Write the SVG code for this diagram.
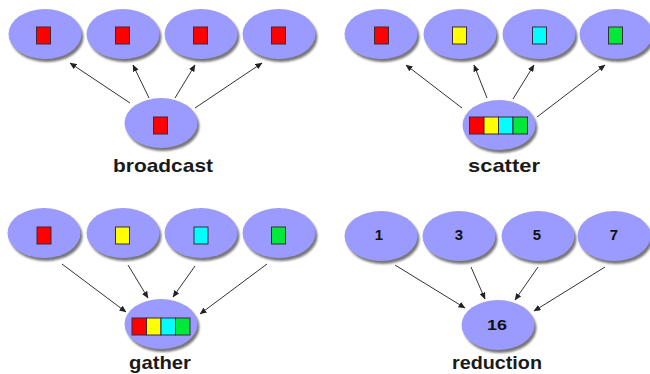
<svg xmlns="http://www.w3.org/2000/svg" width="650" height="374" viewBox="0 0 650 374">
  <defs>
    <filter id="soft" x="-20%" y="-20%" width="140%" height="140%">
      <feGaussianBlur stdDeviation="1.2"/>
    </filter>
    <marker id="head" markerWidth="7" markerHeight="6" refX="6.5" refY="3" orient="auto" markerUnits="userSpaceOnUse">
      <path d="M0,0 L7,3 L0,6 Z" fill="#222"/>
    </marker>
    <!-- a process: lavender ellipse with a soft shadow to the lower right -->
    <g id="proc">
      <ellipse cx="2" cy="3" rx="36.5" ry="25" fill="#555" filter="url(#soft)" opacity="0.8"/>
      <ellipse cx="0" cy="0" rx="36.5" ry="25" fill="#9b9bff"/>
    </g>
  </defs>
  <style>
    .cell { stroke: #3a2a3a; stroke-width: 1; }
    .r { fill: #ff0000; }
    .y { fill: #ffff00; }
    .c { fill: #00ffff; }
    .g { fill: #00e83a; }
    .num { font-family: "Liberation Sans", Arial, sans-serif; font-weight: bold; font-size: 15px; fill: #111; text-anchor: middle; }
    .label { font-family: "Liberation Sans", Arial, sans-serif; font-weight: bold; font-size: 19px; fill: #1a1a1a; text-anchor: middle; }
    .arrow { stroke: #333; stroke-width: 1; fill: none; marker-end: url(#head); }
  </style>

  <rect width="650" height="374" fill="#ffffff"/>

  <!-- connectors -->
  <g id="connectors">
    <!-- broadcast -->
    <line class="arrow" x1="130" y1="103" x2="70" y2="63"/>
    <line class="arrow" x1="149" y1="98" x2="133" y2="65"/>
    <line class="arrow" x1="175" y1="98" x2="195" y2="65"/>
    <line class="arrow" x1="195" y1="108" x2="262" y2="63"/>
    <!-- scatter -->
    <line class="arrow" x1="462" y1="108" x2="406" y2="65"/>
    <line class="arrow" x1="487" y1="98" x2="474" y2="65"/>
    <line class="arrow" x1="513" y1="99" x2="534" y2="65"/>
    <line class="arrow" x1="537" y1="117" x2="605" y2="65"/>
    <!-- gather -->
    <line class="arrow" x1="62" y1="264" x2="126" y2="312"/>
    <line class="arrow" x1="128" y1="265" x2="148" y2="298"/>
    <line class="arrow" x1="195" y1="266" x2="173" y2="297"/>
    <line class="arrow" x1="267" y1="264" x2="200" y2="314"/>
    <!-- reduction -->
    <line class="arrow" x1="395" y1="265" x2="465" y2="308"/>
    <line class="arrow" x1="471" y1="267" x2="485" y2="299"/>
    <line class="arrow" x1="538" y1="267" x2="515" y2="300"/>
    <line class="arrow" x1="605" y1="267" x2="534" y2="311"/>
  </g>

  <!-- broadcast -->
  <g id="bcast-p0"><use href="#proc" x="45" y="34"/><rect class="cell r" x="36.5" y="27" width="14" height="17"/></g>
  <g id="bcast-p1"><use href="#proc" x="123" y="34"/><rect class="cell r" x="115.5" y="27" width="14" height="17"/></g>
  <g id="bcast-p2"><use href="#proc" x="201" y="34"/><rect class="cell r" x="193.5" y="27" width="14" height="17"/></g>
  <g id="bcast-p3"><use href="#proc" x="279" y="34"/><rect class="cell r" x="271.5" y="27" width="14" height="17"/></g>
  <g id="bcast-root"><use href="#proc" x="161" y="123"/><rect class="cell r" x="153.5" y="117" width="14" height="17"/></g>
  <text class="label" x="163" y="172" textLength="100" lengthAdjust="spacingAndGlyphs">broadcast</text>

  <!-- scatter -->
  <g id="scatter-p0"><use href="#proc" x="381" y="34"/><rect class="cell r" x="374.5" y="27" width="14" height="17"/></g>
  <g id="scatter-p1"><use href="#proc" x="460" y="34"/><rect class="cell y" x="452.5" y="27" width="14" height="17"/></g>
  <g id="scatter-p2"><use href="#proc" x="539" y="34"/><rect class="cell c" x="532.5" y="27" width="14" height="17"/></g>
  <g id="scatter-p3"><use href="#proc" x="616" y="34"/><rect class="cell g" x="608.5" y="27" width="14" height="17"/></g>
  <g id="scatter-root"><use href="#proc" x="499" y="125"/>
    <rect class="cell r" x="469.5" y="117" width="14.5" height="17"/>
    <rect class="cell y" x="484" y="117" width="14.5" height="17"/>
    <rect class="cell c" x="498.5" y="117" width="14.5" height="17"/>
    <rect class="cell g" x="513" y="117" width="14.5" height="17"/>
  </g>
  <text class="label" x="504" y="172" textLength="72" lengthAdjust="spacingAndGlyphs">scatter</text>

  <!-- gather -->
  <g id="gather-p0"><use href="#proc" x="44" y="233"/><rect class="cell r" x="37" y="227" width="14" height="17"/></g>
  <g id="gather-p1"><use href="#proc" x="123" y="233"/><rect class="cell y" x="115.5" y="227" width="14" height="17"/></g>
  <g id="gather-p2"><use href="#proc" x="201" y="233"/><rect class="cell c" x="194" y="227" width="14" height="17"/></g>
  <g id="gather-p3"><use href="#proc" x="279" y="233"/><rect class="cell g" x="271.5" y="227" width="14" height="17"/></g>
  <g id="gather-root"><use href="#proc" x="161" y="324"/>
    <rect class="cell r" x="132" y="318" width="14.5" height="17"/>
    <rect class="cell y" x="146.5" y="318" width="14.5" height="17"/>
    <rect class="cell c" x="161" y="318" width="14.5" height="17"/>
    <rect class="cell g" x="175.5" y="318" width="14.5" height="17"/>
  </g>
  <text class="label" x="160" y="369" textLength="62" lengthAdjust="spacingAndGlyphs">gather</text>

  <!-- reduction -->
  <g id="reduce-p0"><use href="#proc" x="381" y="236"/><text class="num" x="379" y="240">1</text></g>
  <g id="reduce-p1"><use href="#proc" x="459" y="236"/><text class="num" x="459" y="240">3</text></g>
  <g id="reduce-p2"><use href="#proc" x="538" y="236"/><text class="num" x="537" y="240">5</text></g>
  <g id="reduce-p3"><use href="#proc" x="614" y="236"/><text class="num" x="614" y="240">7</text></g>
  <g id="reduce-root"><use href="#proc" x="498" y="325"/><text class="num" x="497" y="330" textLength="20" lengthAdjust="spacingAndGlyphs">16</text></g>
  <text class="label" x="497" y="369" textLength="90" lengthAdjust="spacingAndGlyphs">reduction</text>
</svg>
